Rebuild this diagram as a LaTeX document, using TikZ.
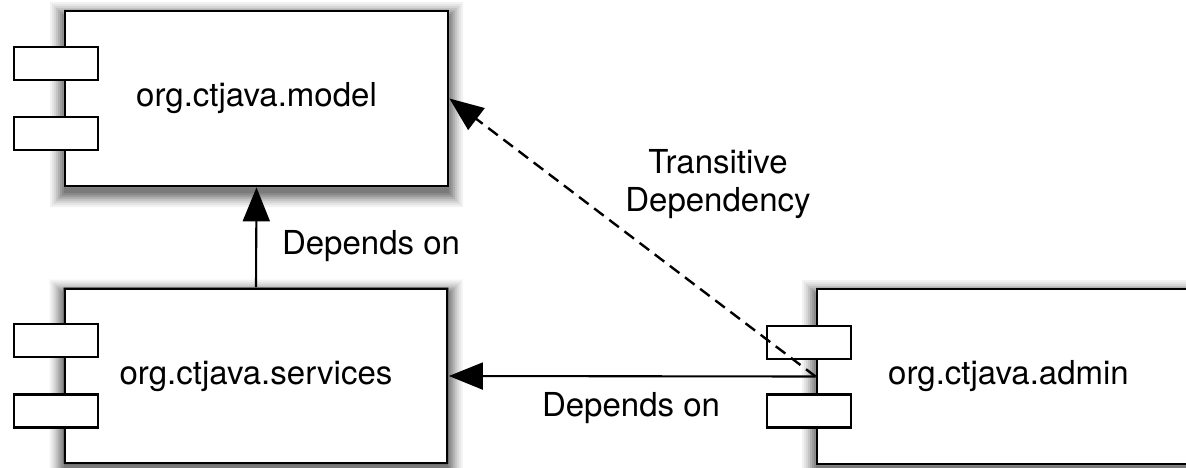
\documentclass[tikz,border=0pt]{standalone}
\usepackage{fontspec}
\setmainfont{TeX Gyre Heros}
\usetikzlibrary{arrows.meta}
\begin{document}
\begin{tikzpicture}[x=1pt,y=-1pt,
  comp/.style={draw=black, line width=2.8pt, fill=white,
    minimum width=383pt, minimum height=175pt, inner sep=0pt,
    font=\fontsize{33}{38}\selectfont},
  port/.style={draw=black, line width=2.5pt, fill=white,
    minimum width=84pt, minimum height=33pt, inner sep=0pt},
  dep/.style={line width=2.1pt, -{Triangle[length=34pt,width=27pt]}},
  deplbl/.style={font=\fontsize{33}{38}\selectfont, inner sep=0pt, align=center}]

\useasboundingbox (0,0) rectangle (1186,467);
\fill[white] (0,0) rectangle (1186,467);

% components
\node[comp] (model)    at (256.5,98.5)  {org.ctjava.model};
\node[comp] (services) at (256,376)     {org.ctjava.services};
\node[comp] (admin)    at (1008.5,376.5){org.ctjava.admin};

% soft drop shadows: bands of grey round each component (shifted 6pt down),
% widest and lightest first; only the parts outside the component are filled
\foreach \cx/\cy in {256.5/98.5, 256/376, 1008.5/376.5}{
  \foreach \ra/\sh in {15/5, 13/10, 11/16, 9/23, 7/31, 5/39, 3/46, 1/52}{
    \pgfmathsetmacro\shadL{\cx-191.5-\ra}
    \pgfmathsetmacro\shadR{\cx+191.5+\ra}
    \pgfmathsetmacro\shadT{\cy-81.5-\ra}
    \pgfmathsetmacro\shadB{\cy+93.5+\ra}
    \pgfmathsetmacro\boxL{\cx-192.9}
    \pgfmathsetmacro\boxR{\cx+192.9}
    \pgfmathsetmacro\boxT{\cy-88.9}
    \pgfmathsetmacro\boxB{\cy+88.9}
    \pgfmathsetmacro\stripL{min(\shadL,\boxL)}
    \pgfmathsetmacro\stripR{max(\shadR,\boxR)}
    \pgfmathsetmacro\stripT{min(\shadT,\boxT)}
    \fill[black!\sh]
      (\shadL,\boxB) rectangle (\shadR,\shadB)
      (\stripL,\shadT) rectangle (\boxL,\boxB)
      (\boxR,\shadT) rectangle (\stripR,\boxB)
      (\boxL,\stripT) rectangle (\boxR,\boxT);
  }
}

% component ports
\node[port] (model-p1)    at (56,63.5)  {};
\node[port] (model-p2)    at (56,133.5) {};
\node[port] (services-p1) at (56,340.5) {};
\node[port] (services-p2) at (56,411)   {};
\node[port] (admin-p1)    at (809,342.5){};
\node[port] (admin-p2)    at (809,411)  {};

% dependencies
\draw[dep] (services.north) -- (model.south);
\draw[dep] (admin.west) -- (services.east);
\draw[dep, line width=2.4pt, dash pattern=on 12pt off 7pt] (admin.west) -- (model.east);

% labels
\node[deplbl] (lbl-sm)  at (371,246)   {Depends on};
\node[deplbl] (lbl-as)  at (631,408)   {Depends on};
\node[deplbl] (lbl-am)  at (718,184)   {Transitive\\Dependency};
\end{tikzpicture}
\end{document}
